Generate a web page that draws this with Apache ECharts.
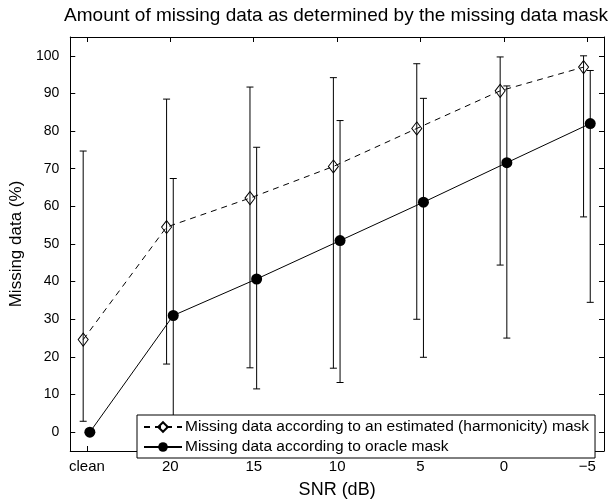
<!DOCTYPE html>
<html>
<head>
<meta charset="utf-8">
<script src="https://cdn.jsdelivr.net/npm/echarts@6/dist/echarts.min.js"></script>
<style>
html,body{margin:0;padding:0;background:#fff;}
#c{width:613px;height:504px;}
</style>
</head>
<body>
<div id="c"></div>
<script>
// ---- data ----
const categories = ['clean', '20', '15', '10', '5', '0', '\u22125'];
const yTicks = [0, 10, 20, 30, 40, 50, 60, 70, 80, 90, 100];

const estName = 'Missing data according to an estimated (harmonicity) mask';
const estMean = [24.6, 54.5, 62.2, 70.6, 80.7, 90.7, 97.0];
const estLow  = [2.9, 18.1, 17.1, 17.0, 30.0, 44.4, 57.2];
const estHigh = [74.7, 88.5, 91.7, 94.2, 97.9, 99.7, 100.0];

const oraName = 'Missing data according to oracle mask';
const oraMean = [0, 31.0, 40.7, 50.9, 61.1, 71.6, 82.0];
const oraLow  = [0, 0, 11.5, 13.2, 19.9, 25.0, 34.5];
const oraHigh = [0, 67.4, 75.7, 82.8, 88.7, 92.0, 96.1];

// ---- build ----
const FONT = 'Liberation Sans, Arial, Helvetica, sans-serif';
const estShift = -0.045, oraShift = 0.035;
const xPos = categories.map((c, i) => i + 1);

function pts(mean, shift) { return mean.map((v, i) => [xPos[i] + shift, v]); }
function bars(low, high, shift) { return low.map((l, i) => [xPos[i] + shift, l, high[i]]); }

function errRender(params, api) {
  const x = api.value(0), lo = api.value(1), hi = api.value(2);
  const pLo = api.coord([x, lo]), pHi = api.coord([x, hi]);
  const w = 3.5;
  const st = { stroke: '#000', lineWidth: 1 };
  return {
    type: 'group',
    children: [
      { type: 'line', shape: { x1: pLo[0], y1: pLo[1], x2: pHi[0], y2: pHi[1] }, style: st },
      { type: 'line', shape: { x1: pLo[0] - w, y1: pLo[1], x2: pLo[0] + w, y2: pLo[1] }, style: st },
      { type: 'line', shape: { x1: pHi[0] - w, y1: pHi[1], x2: pHi[0] + w, y2: pHi[1] }, style: st }
    ]
  };
}

const axisLine = { show: true, onZero: false, lineStyle: { color: '#000', width: 1 } };
const tick = { show: true, inside: true, length: 5, lineStyle: { color: '#000', width: 1 } };

const chart = echarts.init(document.getElementById('c'), null, { renderer: 'canvas' });
chart.setOption({
  animation: false,
  backgroundColor: '#fff',
  textStyle: { fontFamily: FONT },
  title: {
    text: 'Amount of missing data as determined by the missing data mask',
    left: 331, top: 1, textAlign: 'center',
    textStyle: { fontFamily: FONT, fontSize: 19, fontWeight: 'normal', color: '#000' }
  },
  grid: { left: 65, right: 9, top: 37, bottom: 41, containLabel: false },
  legend: {
    orient: 'vertical',
    left: 137, top: 415,
    padding: [4, 6, 3, 6],
    itemGap: 4,
    itemWidth: 38, itemHeight: 12,
    backgroundColor: '#fff',
    borderColor: '#000', borderWidth: 1, borderRadius: 0,
    textStyle: { fontFamily: FONT, fontSize: 15.5, color: '#000', padding: [0, 0, 0, -2] },
    data: [estName, oraName],
    z: 10
  },
  xAxis: [{
    type: 'value', min: 0.8, max: 7.2, position: 'bottom',
    axisLine: axisLine,
    axisTick: Object.assign({ customValues: xPos }, tick),
    axisLabel: {
      customValues: xPos, margin: 8,
      fontFamily: FONT, fontSize: 15, color: '#000',
      formatter: v => categories[Math.round(v) - 1]
    },
    splitLine: { show: false },
    name: 'SNR (dB)', nameLocation: 'middle', nameGap: 30,
    nameTextStyle: { fontFamily: FONT, fontSize: 18, color: '#000' }
  }, {
    type: 'value', min: 0.8, max: 7.2, position: 'top',
    axisLine: axisLine,
    axisTick: Object.assign({ customValues: xPos }, tick),
    axisLabel: { show: false },
    splitLine: { show: false }
  }],
  yAxis: [{
    type: 'value', min: -5, max: 105, position: 'left',
    axisLine: axisLine,
    axisTick: Object.assign({ customValues: yTicks }, tick),
    axisLabel: { customValues: yTicks, margin: 11, fontFamily: FONT, fontSize: 14, color: '#000' },
    splitLine: { show: false },
    name: 'Missing data (%)', nameLocation: 'middle', nameGap: 42,
    nameTextStyle: { fontFamily: FONT, fontSize: 17, color: '#000' }
  }, {
    type: 'value', min: -5, max: 105, position: 'right',
    axisLine: axisLine,
    axisTick: Object.assign({ customValues: yTicks }, tick),
    axisLabel: { show: false },
    splitLine: { show: false }
  }],
  series: [
    {
      type: 'custom', name: 'estErr', renderItem: errRender,
      data: bars(estLow, estHigh, estShift), z: 2, silent: true
    },
    {
      type: 'custom', name: 'oraErr', renderItem: errRender,
      data: bars(oraLow, oraHigh, oraShift), z: 2, silent: true
    },
    {
      type: 'line', name: estName, data: pts(estMean, estShift), z: 3,
      symbol: 'diamond', symbolSize: [10, 13],
      itemStyle: { color: 'rgba(255,255,255,0)', borderColor: '#000', borderWidth: 1 },
      lineStyle: { color: '#000', width: 1, type: [6, 5] }
    },
    {
      type: 'line', name: oraName, data: pts(oraMean, oraShift), z: 3,
      symbol: 'circle', symbolSize: 11,
      itemStyle: { color: '#000', borderColor: '#000', borderWidth: 0 },
      lineStyle: { color: '#000', width: 1, type: 'solid' }
    }
  ]
});
</script>
</body>
</html>
